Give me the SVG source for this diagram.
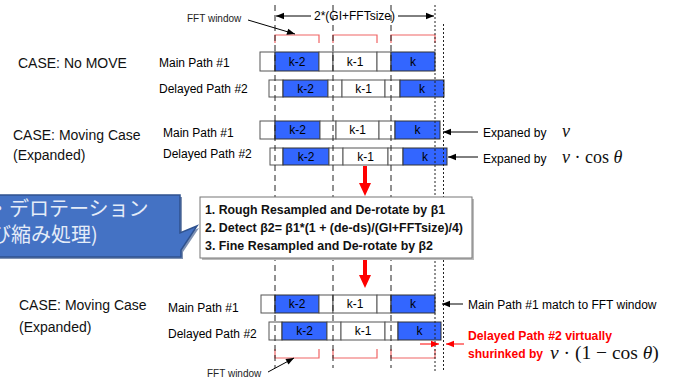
<svg xmlns="http://www.w3.org/2000/svg" width="677" height="385" viewBox="0 0 677 385">
<style>
.lbl{font-family:"Liberation Sans",Arial,sans-serif;font-size:12px;fill:#000}
.case{font-family:"Liberation Sans",Arial,sans-serif;font-size:14px;fill:#111}
.small{font-family:"Liberation Sans",Arial,sans-serif;font-size:10px;fill:#222}
.cell{font-family:"Liberation Sans",Arial,sans-serif;font-size:12px;fill:#000;text-anchor:middle}
.w{fill:#fff;stroke:#555;stroke-width:1}
.b{fill:#3366FF;stroke:#333;stroke-width:1}
.brk{fill:none;stroke:#F06464;stroke-width:1.2}
.dash{stroke:#222;stroke-width:1;stroke-dasharray:6 4}
.dot{stroke:#222;stroke-width:1;stroke-dasharray:2 2}
.arr{stroke:#000;stroke-width:1;fill:none;marker-end:url(#ah)}
.rarr{stroke:#F00;stroke-width:1;fill:none;marker-end:url(#rh)}
.box{font-family:"Liberation Sans",Arial,sans-serif;font-size:12px;font-weight:bold;fill:#111}
.math{font-family:"Liberation Serif","Times New Roman",serif;fill:#111}
.red{font-family:"Liberation Sans",Arial,sans-serif;font-size:12px;font-weight:bold;fill:#F00}
.jp{font-family:"Noto Sans CJK JP",sans-serif;font-size:20px;fill:#E4ECF8}
.bigarrow{fill:#F00}
</style>
<defs>
<marker id="ah" viewBox="0 0 10 10" refX="10" refY="5" markerWidth="10" markerHeight="8" markerUnits="userSpaceOnUse" orient="auto-start-reverse"><path d="M0,1 L10,5 L0,9 z" fill="#000"/></marker>
<marker id="rh" viewBox="0 0 10 10" refX="10" refY="5" markerWidth="10" markerHeight="8" markerUnits="userSpaceOnUse" orient="auto-start-reverse"><path d="M0,1 L10,5 L0,9 z" fill="#F00"/></marker>
</defs>

<!-- case labels -->
<g id="case-nomove"><text class="case" x="18" y="68">CASE: No MOVE</text></g>
<g id="case-moving1"><text class="case" x="13" y="140">CASE: Moving Case</text><text class="case" x="13" y="160">(Expanded)</text></g>
<g id="case-moving2"><text class="case" x="19" y="310">CASE: Moving Case</text><text class="case" x="19" y="332">(Expanded)</text></g>

<!-- path labels -->
<g id="labels">
<text class="lbl" x="159" y="67">Main Path #1</text>
<text class="lbl" x="159" y="93">Delayed Path #2</text>
<text class="lbl" x="163" y="137">Main Path #1</text>
<text class="lbl" x="163" y="158">Delayed Path #2</text>
<text class="lbl" x="168" y="312">Main Path #1</text>
<text class="lbl" x="168" y="338">Delayed Path #2</text>
</g>

<!-- Row 1 -->
<g id="row1">
<rect class="w" x="260" y="52" width="15" height="19"/>
<rect class="b" x="275" y="52" width="44" height="19"/>
<rect class="w" x="319" y="52" width="14" height="19"/>
<rect class="w" x="333" y="52" width="44" height="19"/>
<rect class="w" x="377" y="52" width="14" height="19"/>
<rect class="b" x="391" y="52" width="44" height="19"/>
<text class="cell" x="297" y="66">k-2</text><text class="cell" x="355" y="66">k-1</text><text class="cell" x="413" y="66">k</text>
</g>
<!-- Row 2 -->
<g id="row2">
<rect class="w" x="269" y="80" width="14" height="17"/>
<rect class="b" x="283" y="80" width="45" height="17"/>
<rect class="w" x="328" y="80" width="14" height="17"/>
<rect class="w" x="342" y="80" width="43" height="17"/>
<rect class="w" x="385" y="80" width="15" height="17"/>
<rect class="b" x="400" y="80" width="44" height="17"/>
<text class="cell" x="305.5" y="93">k-2</text><text class="cell" x="363.5" y="93">k-1</text><text class="cell" x="422" y="93">k</text>
</g>
<!-- Row 3 -->
<g id="row3">
<rect class="w" x="260" y="121" width="15" height="18"/>
<rect class="b" x="275" y="121" width="45" height="18"/>
<rect class="w" x="320" y="121" width="16" height="18"/>
<rect class="w" x="336" y="121" width="43" height="18"/>
<rect class="w" x="379" y="121" width="16" height="18"/>
<rect class="b" x="395" y="121" width="45" height="18"/>
<text class="cell" x="297.5" y="134">k-2</text><text class="cell" x="357.5" y="134">k-1</text><text class="cell" x="417.5" y="134">k</text>
</g>
<!-- Row 4 -->
<g id="row4">
<rect class="w" x="270" y="148" width="13" height="17"/>
<rect class="b" x="283" y="148" width="46" height="17"/>
<rect class="w" x="329" y="148" width="14" height="17"/>
<rect class="w" x="343" y="148" width="45" height="17"/>
<rect class="w" x="388" y="148" width="15" height="17"/>
<rect class="b" x="403" y="148" width="44" height="17"/>
<text class="cell" x="306" y="161">k-2</text><text class="cell" x="365.5" y="161">k-1</text><text class="cell" x="425" y="161">k</text>
</g>
<!-- Row 5 -->
<g id="row5">
<rect class="w" x="261" y="295" width="14" height="18"/>
<rect class="b" x="275" y="295" width="44" height="18"/>
<rect class="w" x="319" y="295" width="14" height="18"/>
<rect class="w" x="333" y="295" width="44" height="18"/>
<rect class="w" x="377" y="295" width="14" height="18"/>
<rect class="b" x="391" y="295" width="44" height="18"/>
<text class="cell" x="297" y="308">k-2</text><text class="cell" x="355" y="308">k-1</text><text class="cell" x="413" y="308">k</text>
</g>
<!-- Row 6 -->
<g id="row6">
<rect class="w" x="269" y="322" width="13" height="18"/>
<rect class="b" x="282" y="322" width="45" height="18"/>
<rect class="w" x="327" y="322" width="14" height="18"/>
<rect class="w" x="341" y="322" width="44" height="18"/>
<rect class="w" x="385" y="322" width="13" height="18"/>
<rect class="b" x="398" y="322" width="43" height="18"/>
<text class="cell" x="304.5" y="335">k-2</text><text class="cell" x="363" y="335">k-1</text><text class="cell" x="419.5" y="335">k</text>
</g>

<!-- FFT window brackets -->
<g id="brackets-top">
<path class="brk" d="M275,43 V35 H319 V43 M333,43 V35 H377 V43 M391,43 V35 H435 V43"/>
</g>
<g id="brackets-bottom">
<path class="brk" d="M275,349 V358 H319 V349 M333,349 V358 H377 V349 M391,349 V358 H435 V349"/>
</g>

<!-- guide lines -->
<g id="guides">
<line class="dash" x1="275" y1="5" x2="275" y2="368"/>
<line class="dash" x1="333" y1="5" x2="333" y2="368"/>
<line class="dash" x1="391" y1="5" x2="391" y2="368"/>
<line class="dot" x1="435" y1="5" x2="435" y2="371"/>
<line class="dot" x1="443.5" y1="24" x2="443.5" y2="372"/>
</g>

<!-- connectors -->
<g id="connectors">
<line class="arr" x1="311" y1="16" x2="276" y2="16"/>
<line class="arr" x1="398" y1="16" x2="434" y2="16"/>
<line class="arr" x1="248" y1="20" x2="295" y2="34"/>
<line class="arr" x1="268" y1="372" x2="294" y2="358"/>
<line class="arr" x1="478" y1="132" x2="443" y2="132"/>
<line class="arr" x1="478" y1="157" x2="448" y2="157"/>
<line class="arr" x1="463" y1="304" x2="442" y2="304"/>
<line class="rarr" x1="420" y1="344" x2="439" y2="344"/>
<line class="rarr" x1="464" y1="344" x2="446" y2="344"/>
<path class="bigarrow" d="M363,166 H367 V183 H371 L365,196 L359,183 H363 Z"/>
<path class="bigarrow" d="M363,259 H367 V275 H371 L365,288 L359,275 H363 Z"/>
</g>

<!-- top labels -->
<g id="top-labels">
<text class="lbl" x="354.5" y="20" text-anchor="middle">2*(GI+FFTsize)</text>
<text class="small" x="187" y="22">FFT window</text>
<text class="small" x="207" y="377">FFT window</text>
</g>

<!-- right annotations -->
<g id="annot-expand1">
<text class="lbl" x="483" y="137">Expaned by</text>
<text class="math" x="562" y="137" font-size="18" font-style="italic">v</text>
</g>
<g id="annot-expand2">
<text class="lbl" x="483" y="163">Expaned by</text>
<text class="math" x="562" y="163" font-size="18"><tspan font-style="italic">v</tspan> · cos <tspan font-style="italic">θ</tspan></text>
</g>
<g id="annot-match">
<text class="lbl" x="468" y="309">Main Path #1 match to FFT window</text>
</g>
<g id="annot-shrink">
<text class="red" x="468" y="340" textLength="144" lengthAdjust="spacingAndGlyphs">Delayed Path #2 virtually</text>
<text class="red" x="468" y="358" textLength="75" lengthAdjust="spacingAndGlyphs">shurinked by</text>
<text class="math" x="550" y="359" font-size="19.5"><tspan font-style="italic">v</tspan> · (1 − cos <tspan font-style="italic">θ</tspan>)</text>
</g>

<!-- process box -->
<g id="process-box">
<rect x="202" y="199" width="272" height="61" fill="#bbb"/>
<rect x="200" y="197" width="272" height="61" fill="#fff" stroke="#777" stroke-width="1"/>
<text class="box" x="205" y="214" textLength="240" lengthAdjust="spacingAndGlyphs">1. Rough Resampled and De-rotate by β1</text>
<text class="box" x="205" y="232" textLength="258" lengthAdjust="spacingAndGlyphs">2. Detect β2= β1*(1 + (de-ds)/(GI+FFTsize)/4)</text>
<text class="box" x="205" y="250" textLength="228" lengthAdjust="spacingAndGlyphs">3. Fine Resampled and De-rotate by β2</text>
</g>

<!-- callout -->
<g id="callout">
<path d="M-3,197 H182 V235 L199,228 L183,252 V259 H-3 Z" fill="#2A4A80" opacity="0.6"/>
<path d="M-5,195 H180 V233 L197,226 L181,250 V257 H-5 Z" fill="#4472C4" stroke="#2F528F" stroke-width="1.5"/>
<text class="jp" x="-11" y="216">・デロテーション</text>
<text class="jp" x="-9" y="242">び縮み処理)</text>
</g>
</svg>
